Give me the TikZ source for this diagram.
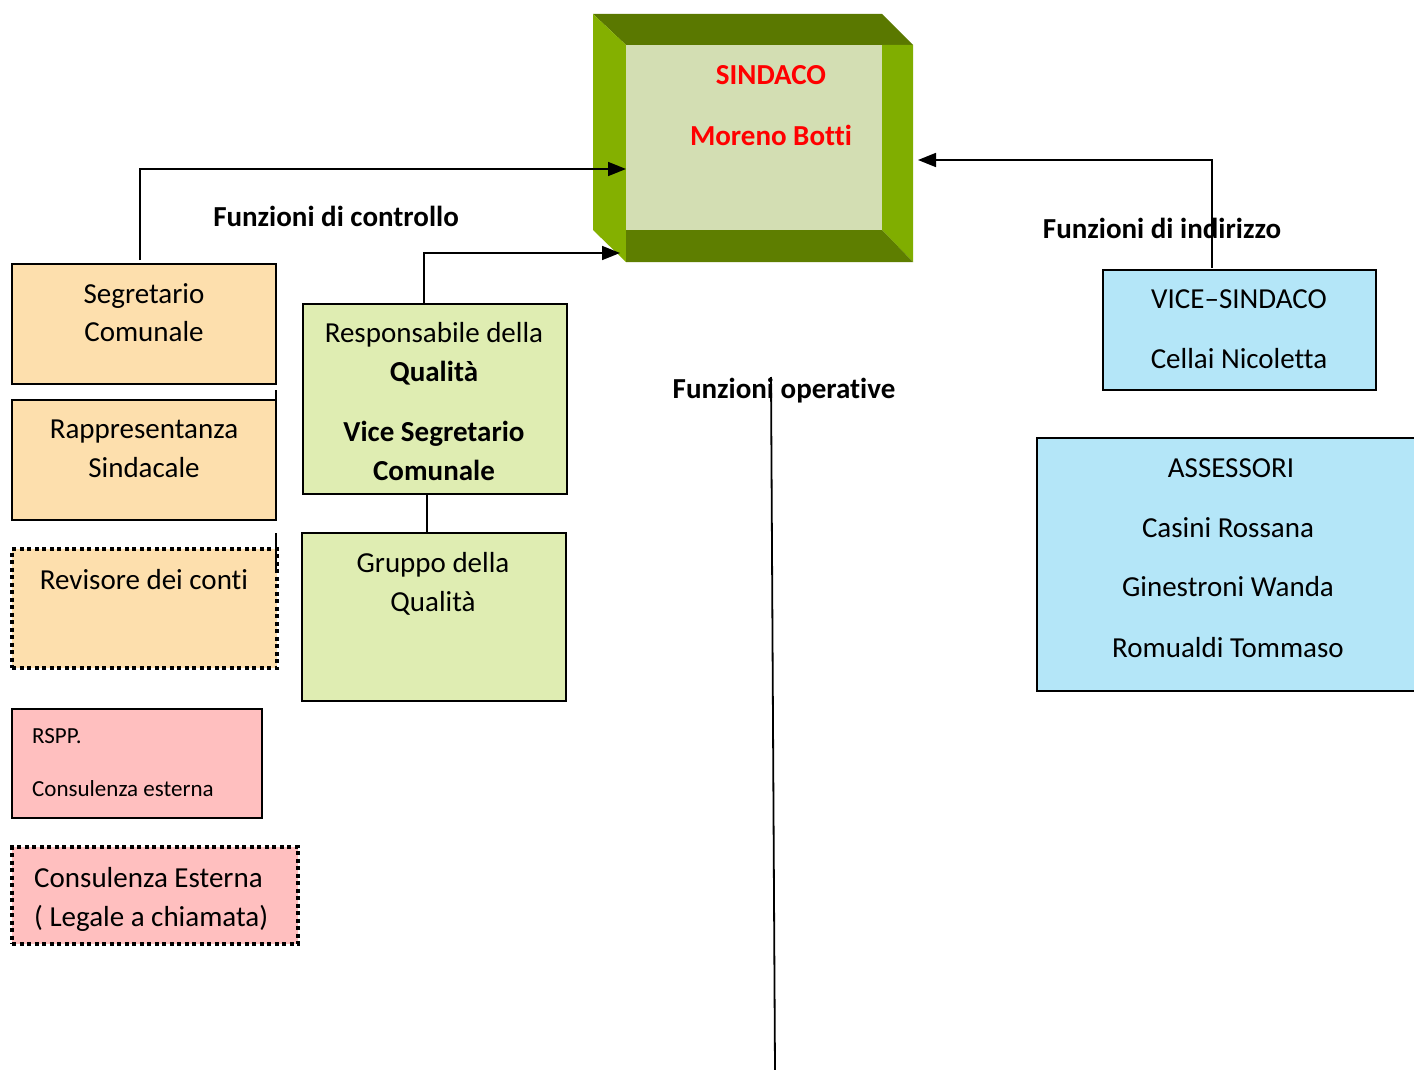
\documentclass[tikz,border=0pt]{standalone}
\usepackage{fontspec}
\setmainfont[Ligatures=NoCommon]{Carlito}
\usetikzlibrary{arrows.meta}
\definecolor{peach}{RGB}{253,223,173}
\definecolor{lgreen}{RGB}{223,237,178}
\definecolor{lblue}{RGB}{180,230,248}
\definecolor{lpink}{RGB}{255,191,191}
\definecolor{face}{RGB}{211,222,179}
\definecolor{bandtop}{RGB}{90,120,0}
\definecolor{bandleft}{RGB}{132,176,0}
\definecolor{bandright}{RGB}{128,174,0}
\definecolor{bandbot}{RGB}{94,126,0}
\definecolor{sindred}{RGB}{255,0,0}
\begin{document}
\begin{tikzpicture}[x=1pt,y=-1pt,
  box/.style={draw=black,line width=1.6pt,inner sep=0pt,outer sep=0pt},
  dotbox/.style={draw=black,line width=4pt,dash pattern=on 4pt off 3.5pt,inner sep=0pt,outer sep=0pt},
  txt/.style={inner sep=0pt,anchor=base,font=\fontsize{29}{35}\selectfont},
  ltxt/.style={inner sep=0pt,anchor=base west,font=\fontsize{29}{35}\selectfont},
  stxt/.style={inner sep=0pt,anchor=base west,font=\fontsize{23}{28}\selectfont},
  btxt/.style={inner sep=0pt,anchor=base,font=\fontsize{29}{35}\selectfont\bfseries},
  conn/.style={draw=black,line width=1.8pt},
  arr/.style={conn,-{Triangle[length=18pt,width=14pt]}}]
\useasboundingbox (0,0) rectangle (1414,1070);
\fill[white] (0,0) rectangle (1414,1070);

% --- SINDACO 3D box ---
\fill[bandtop] (593,14) -- (882,14) -- (913,45) -- (626,45) -- cycle;
\fill[bandleft] (593,14) -- (626,45) -- (626,262) -- (593,230) -- cycle;
\fill[bandright] (882,45) -- (913,45) -- (913,262) -- (882,230) -- cycle;
\fill[bandbot] (626,230) -- (882,230) -- (913,262) -- (626,262) -- cycle;
\node[fill=face,inner sep=0pt,outer sep=0pt,minimum width=256pt,minimum height=185pt] (sind) at (754,137.5) {};
\node[btxt,text=sindred] (sindt1) at (771,85) {SINDACO};
\node[btxt,text=sindred] (sindt2) at (771,146) {Moreno Botti};

% --- left column ---
\node[box,fill=peach,minimum width=264pt,minimum height=120pt] (seg) at (144,324) {};
\node[txt] (segt1) at (144,303) {Segretario};
\node[txt] (segt2) at (144,341) {Comunale};

\node[box,fill=peach,minimum width=264pt,minimum height=120pt] (rap) at (144,460) {};
\node[txt] (rapt1) at (144,438) {Rappresentanza};
\node[txt] (rapt2) at (144,477) {Sindacale};

\node[dotbox,fill=peach,minimum width=265pt,minimum height=119pt] (rev) at (144.5,608.5) {};
\node[txt] (revt) at (144,589) {Revisore dei conti};

\node[box,fill=lpink,minimum width=250pt,minimum height=109pt] (rspp) at (137,763.5) {};
\node[stxt] (rsppt1) at (32,743) {RSPP.};
\node[stxt] (rsppt2) at (32,796) {Consulenza esterna};

\node[dotbox,fill=lpink,minimum width=286pt,minimum height=97pt] (cons) at (155,895.5) {};
\node[ltxt] (const1) at (34,887) {Consulenza Esterna};
\node[ltxt] (const2) at (34,926) {( Legale a chiamata)};

% --- middle column ---
\node[box,fill=lgreen,minimum width=264pt,minimum height=190pt] (resp) at (435,399) {};
\node[txt] (respt1) at (434,342) {Responsabile della};
\node[btxt] (respt2) at (434,381) {Qualità};
\node[btxt] (respt3) at (434,441) {Vice Segretario};
\node[btxt] (respt4) at (434,480) {Comunale};

\node[box,fill=lgreen,minimum width=264pt,minimum height=168pt] (grp) at (434,617) {};
\node[txt] (grpt1) at (433,572) {Gruppo della};
\node[txt] (grpt2) at (433,611) {Qualità};

% --- right column ---
\node[box,fill=lblue,minimum width=273pt,minimum height=120pt] (vice) at (1239.5,330) {};
\node[txt] (vicet1) at (1239,308) {VICE–SINDACO};
\node[txt] (vicet2) at (1239,368) {Cellai Nicoletta};

\node[box,fill=lblue,minimum width=390pt,minimum height=253pt] (ass) at (1232,564.5) {};
\node[txt] (asst1) at (1231,477) {ASSESSORI};
\node[txt] (asst2) at (1228,537) {Casini Rossana};
\node[txt] (asst3) at (1228,596) {Ginestroni Wanda};
\node[txt] (asst4) at (1228,657) {Romualdi Tommaso};

% --- labels ---
\node[btxt] (lctrl) at (336,226) {Funzioni di controllo};
\node[btxt] (lind) at (1162,238) {Funzioni di indirizzo};
\node[btxt] (lop) at (784,398) {Funzioni operative};

% --- connectors ---
\coordinate (c1) at (140,169);
\draw[arr] ([xshift=-4pt,yshift=4pt]seg.north) -- (c1) -- (sind.west |- c1);

\coordinate (c2) at (424,253);
\coordinate (a2) at (620,253);
\draw[arr] ([xshift=-11pt]resp.north) -- (c2) -- (a2);

\coordinate (c3) at (1212,160);
\coordinate (a3) at (918,160);
\draw[arr] ([xshift=-27.5pt,yshift=2pt]vice.north) -- (c3) -- (a3);

\draw[conn] ([xshift=-8pt]resp.south) -- ([xshift=-7pt]grp.north);

\coordinate (op1) at (771,377);
\coordinate (op2) at (775,1070);
\draw[conn] (op1) -- (op2);

\coordinate (s1) at (276,390);
\coordinate (s2) at (276,412);
\draw[conn] (s1) -- (s2);
\coordinate (s3) at (276,533);
\coordinate (s4) at (276,573);
\draw[conn] (s3) -- (s4);
\end{tikzpicture}
\end{document}
